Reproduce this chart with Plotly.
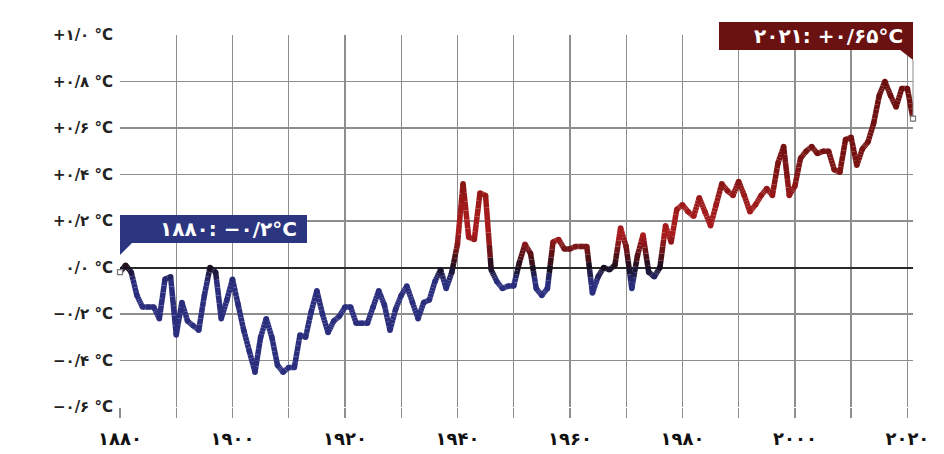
import plotly.graph_objects as go

# ---------------- data ----------------
years = list(range(1880, 2022))
anomaly = [
    -0.02, 0.01, -0.02, -0.12, -0.17, -0.17, -0.17, -0.22, -0.05, -0.04,   # 1880-1889
    -0.29, -0.15, -0.23, -0.25, -0.27, -0.12, 0.00, -0.02, -0.22, -0.14,   # 1890-1899
    -0.05, -0.16, -0.27, -0.36, -0.45, -0.30, -0.22, -0.30, -0.42, -0.45,  # 1900-1909
    -0.43, -0.43, -0.29, -0.30, -0.19, -0.10, -0.20, -0.28, -0.23, -0.21,  # 1910-1919
    -0.17, -0.17, -0.24, -0.24, -0.24, -0.17, -0.10, -0.16, -0.27, -0.18,  # 1920-1929
    -0.12, -0.08, -0.15, -0.22, -0.15, -0.14, -0.06, -0.01, -0.09, -0.02,  # 1930-1939
    0.10, 0.36, 0.13, 0.12, 0.32, 0.31, -0.01, -0.06, -0.09, -0.08,        # 1940-1949
    -0.08, 0.02, 0.10, 0.06, -0.09, -0.12, -0.09, 0.11, 0.12, 0.08,        # 1950-1959
    0.08, 0.09, 0.09, 0.09, -0.11, -0.04, 0.00, -0.01, 0.01, 0.17,         # 1960-1969
    0.09, -0.09, 0.05, 0.14, -0.02, -0.04, 0.00, 0.18, 0.11, 0.25,         # 1970-1979
    0.27, 0.24, 0.22, 0.30, 0.24, 0.18, 0.27, 0.36, 0.33, 0.31,            # 1980-1989
    0.37, 0.31, 0.24, 0.27, 0.31, 0.34, 0.31, 0.45, 0.52, 0.31,            # 1990-1999
    0.35, 0.47, 0.50, 0.52, 0.49, 0.50, 0.50, 0.42, 0.41, 0.55,            # 2000-2009
    0.56, 0.44, 0.51, 0.54, 0.62, 0.74, 0.80, 0.74, 0.69, 0.77,            # 2010-2019
    0.77, 0.64,                                                            # 2020-2021
]

y_tick_vals = [-0.6, -0.4, -0.2, 0.0, 0.2, 0.4, 0.6, 0.8, 1.0]
y_tick_text = ["−۰/۶ °C", "−۰/۴ °C", "−۰/۲ °C", "۰/۰ °C", "+۰/۲ °C",
               "+۰/۴ °C", "+۰/۶ °C", "+۰/۸ °C", "+۱/۰ °C"]
x_tick_vals = list(range(1880, 2021, 10))
x_tick_text = ["۱۸۸۰", "", "۱۹۰۰", "", "۱۹۲۰", "", "۱۹۴۰", "", "۱۹۶۰", "",
               "۱۹۸۰", "", "۲۰۰۰", "", "۲۰۲۰"]
start_label = "۱۸۸۰: −۰/۲°C"
end_label = "۲۰۲۱: +۰/۶۵°C"

# ---------------- styling helpers ----------------
FONT = "DejaVu Sans"
BLUE_BOX = "#2c3580"
RED_BOX = "#6a1212"

stops = [
    (-0.60, (42, 46, 125)),
    (-0.06, (42, 46, 125)),
    (0.00, (24, 14, 32)),
    (0.06, (95, 18, 22)),
    (0.14, (170, 28, 30)),
    (0.28, (158, 26, 26)),
    (0.40, (128, 20, 20)),
    (0.55, (115, 17, 17)),
    (0.85, (105, 14, 14)),
]


def color_for(v):
    if v <= stops[0][0]:
        c = stops[0][1]
    elif v >= stops[-1][0]:
        c = stops[-1][1]
    else:
        for (v0, c0), (v1, c1) in zip(stops[:-1], stops[1:]):
            if v0 <= v <= v1:
                t = (v - v0) / (v1 - v0)
                c = tuple(c0[i] + (c1[i] - c0[i]) * t for i in range(3))
                break
    return "rgb(%d,%d,%d)" % tuple(int(round(x)) for x in c)


LW = 5.5
fig = go.Figure()

# colored line built from short pieces of each segment, grouped by colour bin
groups = {}
NSUB = 6
for i in range(len(years) - 1):
    x0, x1 = years[i], years[i + 1]
    y0, y1 = anomaly[i], anomaly[i + 1]
    for k in range(NSUB):
        ta, tb = k / NSUB, (k + 1) / NSUB
        xa, xb = x0 + (x1 - x0) * ta, x0 + (x1 - x0) * tb
        ya, yb = y0 + (y1 - y0) * ta, y0 + (y1 - y0) * tb
        vm = round(((ya + yb) / 2) / 0.015) * 0.015
        g = groups.setdefault(vm, ([], []))
        g[0].extend([xa, xb, None])
        g[1].extend([ya, yb, None])

for vm in sorted(groups):
    xs, ys = groups[vm]
    fig.add_trace(go.Scatter(x=xs, y=ys, mode="lines",
                             line=dict(color=color_for(vm), width=LW),
                             hoverinfo="skip", showlegend=False, cliponaxis=False))

# round joints at the vertices
fig.add_trace(go.Scatter(x=years, y=anomaly, mode="markers",
                         marker=dict(size=LW, color=[color_for(v) for v in anomaly],
                                     line=dict(width=0)),
                         hoverinfo="skip", showlegend=False, cliponaxis=False))

# start and end markers
fig.add_trace(go.Scatter(x=[years[0], years[-1]], y=[anomaly[0], anomaly[-1]],
                         mode="markers",
                         marker=dict(symbol="square", size=5, color="white",
                                     line=dict(color="#777777", width=1.2)),
                         hoverinfo="skip", showlegend=False, cliponaxis=False))

# ---------------- layout ----------------
L, R, T, B = 120, 31, 35, 47
W, H = 944, 454
PW, PH = W - L - R, H - T - B


def px(xp):
    return (xp - L) / PW


def py(yp):
    return (H - B - yp) / PH


shapes = [
    # 1880 label box + tail
    dict(type="rect", xref="paper", yref="paper", x0=px(120), x1=px(307),
         y0=py(243), y1=py(215), fillcolor=BLUE_BOX, line=dict(width=0), layer="above"),
    dict(type="path", xref="paper", yref="paper",
         path="M %f %f L %f %f L %f %f Z" % (px(120), py(242), px(133), py(242), px(120), py(255)),
         fillcolor=BLUE_BOX, line=dict(width=0), layer="above"),
    # 2021 label box + tail + pointer line
    dict(type="rect", xref="paper", yref="paper", x0=px(719), x1=px(913),
         y0=py(50), y1=py(22), fillcolor=RED_BOX, line=dict(width=0), layer="above"),
    dict(type="path", xref="paper", yref="paper",
         path="M %f %f L %f %f L %f %f Z" % (px(899), py(49), px(913), py(49), px(913), py(60)),
         fillcolor=RED_BOX, line=dict(width=0), layer="above"),
    dict(type="line", xref="paper", yref="paper", x0=px(913), x1=px(913),
         y0=py(60), y1=py(116), line=dict(color="#8a8a8a", width=1), layer="above"),
]

annotations = [
    dict(xref="paper", yref="paper", x=px(299), y=py(229), xanchor="right", yanchor="middle",
         text=start_label, showarrow=False,
         font=dict(family=FONT, size=20, color="white", weight="bold")),
    dict(xref="paper", yref="paper", x=px(905), y=py(36), xanchor="right", yanchor="middle",
         text=end_label, showarrow=False,
         font=dict(family=FONT, size=20, color="white", weight="bold")),
]

fig.update_layout(
    width=W, height=H,
    margin=dict(l=L, r=R, t=T, b=B, pad=0, autoexpand=False),
    paper_bgcolor="white", plot_bgcolor="white",
    shapes=shapes, annotations=annotations,
    showlegend=False,
)

fig.update_xaxes(
    range=[1880, 2021], tickvals=x_tick_vals, ticktext=x_tick_text,
    showgrid=True, gridcolor="#8e8e8e", gridwidth=1.3, zeroline=False,
    ticks="outside", ticklen=10, tickcolor="#8e8e8e", tickwidth=1.3,
    ticklabelstandoff=5, automargin=False,
    tickfont=dict(family=FONT, size=18, color="#111111", weight="bold"),
    showline=False,
)
fig.update_yaxes(
    range=[-0.6, 1.0], tickvals=y_tick_vals, ticktext=y_tick_text,
    showgrid=True, gridcolor="#8e8e8e", gridwidth=1.3,
    zeroline=True, zerolinecolor="#2a2a2a", zerolinewidth=2,
    ticks="", ticklabelstandoff=6, automargin=False,
    tickfont=dict(family=FONT, size=15, color="#222222", weight="bold"),
    showline=False,
)

fig.write_html("out.html",
               config={"displayModeBar": False, "staticPlot": True},
               post_script="document.body.style.margin='0';document.body.style.overflow='hidden';")
